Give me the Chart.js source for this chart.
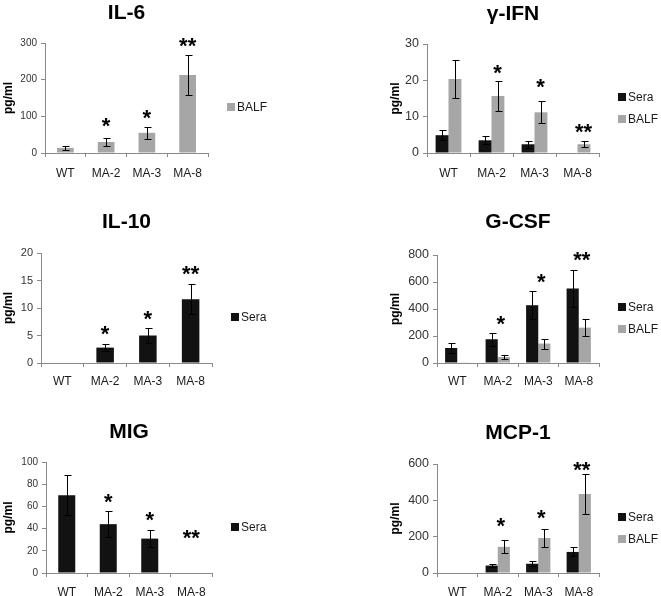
<!DOCTYPE html>
<html>
<head>
<meta charset="utf-8">
<script src="https://cdn.jsdelivr.net/npm/chart.js@4.4.1/dist/chart.umd.min.js"></script>
<style>
html, body { margin: 0; padding: 0; background: #fff; overflow: hidden; width: 661px; height: 596px; }
canvas { position: absolute; }
</style>
</head>
<body>
<canvas id="c1" width="330" height="195" style="left:0px;top:0px"></canvas>
<canvas id="c2" width="331" height="195" style="left:330px;top:0px"></canvas>
<canvas id="c3" width="330" height="205" style="left:0px;top:195px"></canvas>
<canvas id="c4" width="331" height="205" style="left:330px;top:195px"></canvas>
<canvas id="c5" width="330" height="196" style="left:0px;top:400px"></canvas>
<canvas id="c6" width="331" height="196" style="left:330px;top:400px"></canvas>
<script>
// ---------- data ----------
const categories = ['WT', 'MA-2', 'MA-3', 'MA-8'];
const starMarks = ['', '*', '*', '**'];

// IL-6 (BALF)
const il6Balf = [14, 30, 55, 213];
const il6BalfErr = [5, 12, 17, 54];
const il6StarAt = [null, 88, 112, 307];
const il6Ticks = [0, 100, 200, 300];

// γ-IFN
const ifnSera = [4.9, 3.5, 2.4, 0];
const ifnSeraErr = [1.4, 1.1, 0.9, 0];
const ifnBalf = [20.4, 15.7, 11.2, 2.4];
const ifnBalfErr = [5.3, 4.1, 3.0, 0.8];
const ifnStarAt = [null, 23.5, 19.7, 7.4];
const ifnTicks = [0, 10, 20, 30];

// IL-10 (Sera)
const il10Sera = [0, 2.8, 5.0, 11.6];
const il10SeraErr = [0, 0.7, 1.3, 2.7];
const il10StarAt = [null, 6.4, 9.1, 17.3];
const il10Ticks = [0, 5, 10, 15, 20];

// G-CSF
const gcsfSera = [111, 176, 428, 552];
const gcsfSeraErr = [37, 47, 104, 140];
const gcsfBalf = [5, 44, 144, 262];
const gcsfBalfErr = [0, 17, 37, 62];
const gcsfStarAt = [null, 329, 639, 805];
const gcsfTicks = [0, 200, 400, 600, 800];

// MIG (Sera)
const migSera = [70, 44, 31, 0];
const migSeraErr = [18, 12, 8, 0];
const migStarAt = [null, 69, 53, 36.6];
const migTicks = [0, 20, 40, 60, 80, 100];

// MCP-1
const mcpSera = [0, 41, 51, 116];
const mcpSeraErr = [0, 10, 14, 25];
const mcpBalf = [0, 144, 193, 435];
const mcpBalfErr = [0, 36, 50, 108];
const mcpStarAt = [null, 291, 337, 600];
const mcpTicks = [0, 200, 400, 600];

// ---------- styles ----------
const FONT = '"Liberation Sans", Arial, Helvetica, sans-serif';
const AXIS = '#8a8a8a';
const SERA_COLOR = '#121212';
const BALF_COLOR = '#a6a6a6';
Chart.defaults.font.family = FONT;

const errorBarPlugin = {
  id: 'errorBars',
  afterDatasetsDraw(chart) {
    const ctx = chart.ctx, y = chart.scales.y;
    chart.data.datasets.forEach((ds, di) => {
      if (!ds.errors) return;
      const meta = chart.getDatasetMeta(di);
      meta.data.forEach((bar, i) => {
        const e = ds.errors[i], v = ds.data[i];
        if (!e) return;
        const yt = Math.round(y.getPixelForValue(v + e)) + 0.5;
        const yb = Math.round(y.getPixelForValue(v - e)) + 0.5;
        const x = Math.round(bar.x) + 0.5;
        ctx.save();
        ctx.strokeStyle = '#000';
        ctx.lineWidth = 1;
        ctx.beginPath();
        ctx.moveTo(x, yt); ctx.lineTo(x, yb);
        ctx.moveTo(x - 3, yt); ctx.lineTo(x + 4, yt);
        ctx.moveTo(x - 3, yb); ctx.lineTo(x + 4, yb);
        ctx.stroke();
        ctx.restore();
      });
    });
  }
};

const starPlugin = {
  id: 'stars',
  afterDatasetsDraw(chart, args, opts) {
    if (!opts.at) return;
    const ctx = chart.ctx, xs = chart.scales.x, ys = chart.scales.y;
    const size = opts.size || 22;
    ctx.save();
    ctx.fillStyle = '#000';
    ctx.font = 'bold ' + size + 'px ' + FONT;
    ctx.textAlign = 'center';
    ctx.textBaseline = 'alphabetic';
    opts.at.forEach((v, i) => {
      if (v === null || !opts.marks[i]) return;
      const x = xs.getPixelForValue(i) + (opts.dx || 0);
      const y = ys.getPixelForValue(v) + 0.58 * size;
      ctx.fillText(opts.marks[i], x, y);
    });
    ctx.restore();
  }
};

const legendPlugin = {
  id: 'sideLegend',
  afterDraw(chart, args, opts) {
    const ctx = chart.ctx, a = chart.chartArea;
    const sets = chart.data.datasets, n = sets.length;
    const cy = (a.top + a.bottom) / 2 + (opts.dy || 0);
    ctx.save();
    ctx.font = '12px ' + FONT;
    ctx.textBaseline = 'middle';
    ctx.textAlign = 'left';
    sets.forEach((ds, i) => {
      const y = Math.round(cy + (i - (n - 1) / 2) * 22);
      const bx = Math.round(a.right + opts.dx);
      ctx.fillStyle = ds.backgroundColor;
      ctx.fillRect(bx, y - 4, 8, 8);
      ctx.fillStyle = '#1a1a1a';
      ctx.fillText(ds.label, bx + 10, y + 0.5);
    });
    ctx.restore();
  }
};

function seraSet(data, err, single) {
  return { label: 'Sera', data: data, errors: err, backgroundColor: SERA_COLOR,
    barPercentage: single ? 0.41 : 1, categoryPercentage: single ? 1 : 0.6 };
}
function balfSet(data, err, single) {
  return { label: 'BALF', data: data, errors: err, backgroundColor: BALF_COLOR,
    barPercentage: single ? 0.41 : 1, categoryPercentage: single ? 1 : 0.6 };
}

function makeChart(id, cfg) {
  const t = cfg.ticks;
  return new Chart(document.getElementById(id), {
    type: 'bar',
    data: { labels: categories, datasets: cfg.datasets },
    options: {
      responsive: false,
      animation: false,
      devicePixelRatio: 1,
      layout: { padding: { left: cfg.padL, right: cfg.padR, top: 0, bottom: 0 } },
      plugins: {
        legend: { display: false },
        tooltip: { enabled: false },
        title: {
          display: true, text: cfg.title, fullSize: false, color: '#000',
          font: { family: FONT, size: 21, weight: 'bold', lineHeight: 1 },
          padding: { top: cfg.tTop + 2, bottom: cfg.tBot - 2 }
        },
        stars: { at: cfg.starAt, marks: starMarks, dx: cfg.starDx || 0 },
        sideLegend: { dx: 19, dy: 9 }
      },
      scales: {
        x: {
          grid: { offset: true, drawOnChartArea: false, drawTicks: true, tickLength: 4, color: AXIS },
          border: { display: true, color: AXIS },
          ticks: { color: '#1a1a1a', font: { family: FONT, size: 12 }, padding: cfg.xPad, maxRotation: 0, autoSkip: false },
          afterFit: s => { s.height = cfg.xH; }
        },
        y: {
          min: t[0], max: t[t.length - 1],
          grid: { drawOnChartArea: false, drawTicks: true, tickLength: 4, color: AXIS },
          border: { display: true, color: AXIS },
          ticks: { color: '#333', font: { family: FONT, size: cfg.yFont }, padding: 4 },
          afterBuildTicks: s => { s.ticks = t.map(v => ({ value: v })); },
          afterFit: s => { s.width = cfg.yW; },
          title: { display: true, text: 'pg/ml', color: '#000',
            font: { family: FONT, size: 12, weight: 'bold' }, padding: { top: 1, bottom: 0 } }
        }
      }
    },
    plugins: [errorBarPlugin, starPlugin, legendPlugin]
  });
}

makeChart('c1', { title: 'IL-6', datasets: [balfSet(il6Balf, il6BalfErr, true)], ticks: il6Ticks,
  starAt: il6StarAt, padL: 0, yW: 45, padR: 122, xH: 42, tTop: 0.7, tBot: 21.3, xPad: 9, yFont: 10 });
makeChart('c2', { title: 'γ-IFN', datasets: [seraSet(ifnSera, ifnSeraErr), balfSet(ifnBalf, ifnBalfErr)], ticks: ifnTicks,
  starAt: ifnStarAt, starDx: 6, padL: 57, yW: 40, padR: 62, xH: 42, tTop: 1.5, tBot: 21.5, xPad: 9, yFont: 12.5 });
makeChart('c3', { title: 'IL-10', datasets: [seraSet(il10Sera, il10SeraErr, true)], ticks: il10Ticks,
  starAt: il10StarAt, padL: 0, yW: 41, padR: 118, xH: 37, tTop: 15.2, tBot: 21.8, xPad: 7, yFont: 11 });
makeChart('c4', { title: 'G-CSF', datasets: [seraSet(gcsfSera, gcsfSeraErr), balfSet(gcsfBalf, gcsfBalfErr)], ticks: gcsfTicks,
  starAt: gcsfStarAt, starDx: 3, padL: 57, yW: 50, padR: 62, xH: 37, tTop: 15.2, tBot: 23.8, xPad: 7, yFont: 12.5 });
makeChart('c5', { title: 'MIG', datasets: [seraSet(migSera, migSeraErr, true)], ticks: migTicks,
  starAt: migStarAt, padL: 0, yW: 46, padR: 118, xH: 23, tTop: 20.2, tBot: 20.8, xPad: 8, yFont: 10 });
makeChart('c6', { title: 'MCP-1', datasets: [seraSet(mcpSera, mcpSeraErr), balfSet(mcpBalf, mcpBalfErr)], ticks: mcpTicks,
  starAt: mcpStarAt, starDx: 3, padL: 57, yW: 50, padR: 62, xH: 23, tTop: 20.7, tBot: 22.3, xPad: 8, yFont: 12.5 });
</script>
</body>
</html>
